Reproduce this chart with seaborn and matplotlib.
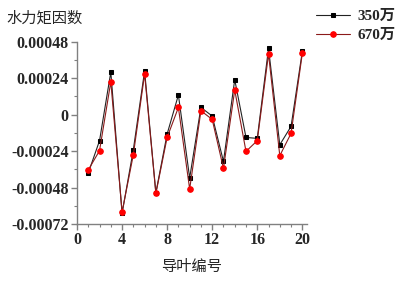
import numpy as np
import pandas as pd
import matplotlib
matplotlib.use('Agg')
import matplotlib.pyplot as plt
import seaborn as sns
from matplotlib.ticker import MultipleLocator

# Data
vane_no = list(range(1, 21))
moment_350 = [-0.000384, -0.000171, 0.000281, -0.000650, -0.000231,
              0.000288, -0.000515, -0.000127, 0.000130, -0.000417,
              0.000048, -0.000009, -0.000308, 0.000231, -0.000150,
              -0.000156, 0.000437, -0.000198, -0.000077, 0.000417]
moment_670 = [-0.000364, -0.000237, 0.000217, -0.000641, -0.000264,
              0.000268, -0.000519, -0.000150, 0.000048, -0.000490,
              0.000026, -0.000031, -0.000354, 0.000163, -0.000242,
              -0.000171, 0.000400, -0.000270, -0.000123, 0.000404]
y_ticks = [0.00048, 0.00024, 0, -0.00024, -0.00048, -0.00072]
y_tick_labels = ['0.00048', '0.00024', '0', '-0.00024', '-0.00048', '-0.00072']
x_ticks = [0, 4, 8, 12, 16, 20]

df = pd.DataFrame({'vane': vane_no, 'm350': moment_350, 'm670': moment_670})

sns.set_style('white')
num_font = ['Liberation Serif', 'Noto Sans CJK SC']
cjk_font = ['Noto Sans CJK SC', 'DejaVu Sans']

fig = plt.figure(figsize=(3.99, 2.81), dpi=100)
ax = fig.add_axes([0.193, 0.203, 0.576, 0.648])

sns.lineplot(data=df, x='vane', y='m350', ax=ax, color='#222222', lw=0.8,
             marker='s', markersize=3.5, markeredgecolor='black',
             markerfacecolor='black', label='350万')
sns.lineplot(data=df, x='vane', y='m670', ax=ax, color='#8b1a1a', lw=0.8,
             marker='o', markersize=4, markeredgecolor='red',
             markerfacecolor='red', label='670万')

ax.set_xlim(0, 20.4)
ax.set_ylim(-0.00072, 0.00048)
ax.set_xticks(x_ticks)
ax.set_xticklabels([str(t) for t in x_ticks])
ax.set_yticks(y_ticks)
ax.set_yticklabels(y_tick_labels)
ax.xaxis.set_minor_locator(MultipleLocator(1))
ax.yaxis.set_minor_locator(MultipleLocator(0.00012))

for s in ['top', 'right']:
    ax.spines[s].set_visible(False)
for s in ['left', 'bottom']:
    ax.spines[s].set_color('#808080')
    ax.spines[s].set_linewidth(1.0)
ax.tick_params(which='major', direction='out', length=4, width=1, color='#808080', pad=2)
ax.tick_params(which='minor', direction='out', length=2, width=0.8, color='#808080')
ax.tick_params(left=True, bottom=True, which='both')

for lab in ax.get_xticklabels() + ax.get_yticklabels():
    lab.set_family(num_font)
    lab.set_fontweight('bold')
    lab.set_fontsize(11.5)

ax.set_xlabel('')
ax.set_ylabel('')
fig.text(0.015, 0.935, '水力矩因数', family=cjk_font, fontsize=11, va='center', ha='left')
fig.text(0.48, 0.05, '导叶编号', family=cjk_font, fontsize=11, va='center', ha='center')

leg = ax.legend(loc='upper left', bbox_to_anchor=(0.77, 1.0), bbox_transform=fig.transFigure,
                frameon=False, handlelength=2.2, handletextpad=0.5, labelspacing=0.35,
                borderaxespad=0.2, prop={'family': num_font, 'weight': 'bold', 'size': 11})

fig.savefig('out.png', dpi=100)
